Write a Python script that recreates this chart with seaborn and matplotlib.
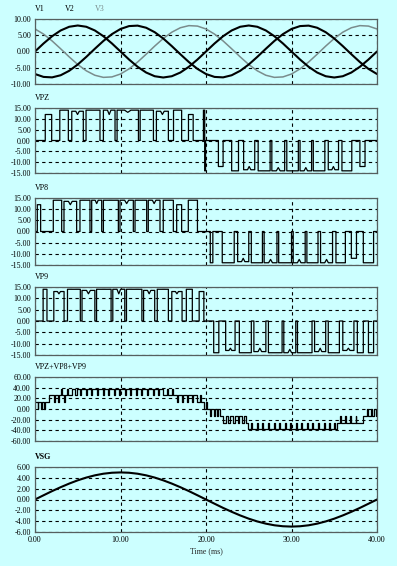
import numpy as np
import pandas as pd
import matplotlib
matplotlib.use("Agg")
import matplotlib.pyplot as plt
import seaborn as sns

# ---------------- data ----------------
t_sine = list(range(0, 41))  # ms
v1 = [0, 2.47, 4.70, 6.47, 7.61, 8.00, 7.61, 6.47, 4.70, 2.47, 0, -2.47, -4.70, -6.47, -7.61, -8.00, -7.61, -6.47, -4.70, -2.47,
      0, 2.47, 4.70, 6.47, 7.61, 8.00, 7.61, 6.47, 4.70, 2.47, 0, -2.47, -4.70, -6.47, -7.61, -8.00, -7.61, -6.47, -4.70, -2.47, 0]
v2 = [-6.93, -7.82, -7.96, -7.31, -5.94, -4.00, -1.66, 0.84, 3.25, 5.35, 6.93, 7.82, 7.96, 7.31, 5.94, 4.00, 1.66, -0.84, -3.25, -5.35,
      -6.93, -7.82, -7.96, -7.31, -5.94, -4.00, -1.66, 0.84, 3.25, 5.35, 6.93, 7.82, 7.96, 7.31, 5.94, 4.00, 1.66, -0.84, -3.25, -5.35, -6.93]
v3 = [6.93, 5.35, 3.25, 0.84, -1.66, -4.00, -5.94, -7.31, -7.96, -7.82, -6.93, -5.35, -3.25, -0.84, 1.66, 4.00, 5.94, 7.31, 7.96, 7.82,
      6.93, 5.35, 3.25, 0.84, -1.66, -4.00, -5.94, -7.31, -7.96, -7.82, -6.93, -5.35, -3.25, -0.84, 1.66, 4.00, 5.94, 7.31, 7.96, 7.82, 6.93]
vsg = [0, 0.78, 1.55, 2.27, 2.94, 3.54, 4.05, 4.46, 4.76, 4.94, 5.00, 4.94, 4.76, 4.46, 4.05, 3.54, 2.94, 2.27, 1.55, 0.78,
       0, -0.78, -1.55, -2.27, -2.94, -3.54, -4.05, -4.46, -4.76, -4.94, -5.00, -4.94, -4.76, -4.46, -4.05, -3.54, -2.94, -2.27, -1.55, -0.78, 0]

# PWM pulses: start (ms), end (ms), level, dip of the pulse top
vpz_on = [1.2, 2.9, 4.3, 5.97, 8.0, 9.6, 12.3, 14.2, 16.2, 17.95, 19.7, 19.85,
          21.45, 23.0, 24.4, 26.1, 27.7, 29.45, 31.0, 32.55, 34.3, 35.9, 38.0]
vpz_off = [1.95, 3.9, 5.65, 7.6, 9.36, 12.1, 13.85, 15.6, 17.15, 18.5, 19.85, 19.95,
           22.0, 23.8, 25.7, 27.5, 29.2, 30.8, 32.35, 33.9, 35.5, 37.05, 38.6]
vpz_lvl = [12, 14, 13.5, 14, 14, 14, 14, 13.5, 14, 12, 14, -14,
           -12, -14, -13.5, -14, -14, -14, -14, -14, -13.5, -14, -12]
vpz_dip = [0, 0, 1.5, 0, 2, 1, 0, 1.5, 0, 0, 0, 0,
           0, 0, 1.5, 0, 1.5, 0, 1.5, 0, 1.5, 0, 0]

vp8_on = [0.27, 2.14, 3.39, 5.26, 6.63, 8.0, 9.94, 11.7, 13.25, 15.0, 16.57, 17.93,
          20.5, 21.9, 23.7, 25.3, 26.8, 28.5, 30.2, 31.8, 33.4, 35.2, 37.0, 38.4]
vp8_off = [0.66, 3.12, 4.87, 6.43, 7.8, 9.75, 11.5, 13.06, 14.62, 16.18, 17.15, 19.0,
           20.8, 23.3, 25.0, 26.6, 28.3, 30.0, 31.6, 33.1, 34.8, 36.3, 37.6, 39.6]
vp8_lvl = [12, 14, 13.5, 14, 14, 14, 14, 14, 14, 14, 12, 14,
           -14, -14, -13.5, -14, -14, -14, -14, -14, -14, -14, -12, -14]
vp8_dip = [0, 0, 1.5, 0, 1.5, 0, 1.5, 0, 1.5, 0, 0, 0,
           0, 0, 1.5, 0, 1.5, 0, 1.5, 0, 1.5, 0, 0, 0]

vp9_on = [0.95, 2.2, 3.8, 5.5, 7.2, 9.1, 10.7, 12.7, 14.3, 16.0, 17.7, 19.2,
          20.9, 22.3, 23.9, 25.6, 27.3, 29.1, 30.7, 32.7, 34.3, 36.0, 37.7, 39.0]
vp9_off = [1.4, 3.4, 5.3, 7.0, 8.9, 10.5, 12.5, 14.0, 15.6, 17.2, 18.4, 19.75,
           21.5, 23.4, 25.3, 27.0, 28.9, 30.5, 32.4, 34.0, 35.6, 37.3, 38.4, 39.6]
vp9_lvl = [14, 13, 14, 13.5, 14, 14, 14, 13.5, 14, 13, 14, 13,
           -14, -13, -14, -13.5, -14, -14, -14, -13.5, -14, -13, -14, -14]
vp9_dip = [0, 1, 0, 1.5, 0, 2, 0, 1.5, 0, 1, 0, 0,
           0, 1, 0, 1.5, 0, 1.5, 0, 1.5, 0, 1, 0, 0]

# VPZ+VP8+VP9 staircase (time of change, level after it)
sum_t = [0, 0.3, 0.4, 0.7, 0.8, 1.1, 1.2, 1.6, 2.2, 2.35, 2.7, 2.8, 3.0, 3.1, 3.4, 3.5, 3.8, 3.9, 4.3, 4.7,
         4.9, 5.3, 5.42, 5.95, 6.07, 6.6, 6.72, 7.25, 7.37, 7.9, 8.02, 8.55, 8.67, 9.2, 9.32, 9.85, 9.97,
         10.5, 10.62, 11.15, 11.27, 11.8, 11.92, 12.45, 12.57, 13.1, 13.22, 13.75, 13.87, 14.4, 14.52,
         15.0, 15.4, 15.5, 16.0, 16.1, 16.6, 16.7, 17.2, 17.35, 17.8, 17.9, 18.4, 18.5, 18.9, 19.3, 19.4,
         19.8, 20.0, 20.1, 20.5, 20.6, 20.9, 21.0, 21.3, 21.4, 21.6,
         22.0, 22.3, 22.6, 22.8, 23.2, 23.4, 23.7, 23.9, 24.2, 24.5, 24.7,
         24.9, 25.3, 25.42, 25.95, 26.07, 26.6, 26.72, 27.25, 27.37, 27.9, 28.02, 28.55, 28.67, 29.2, 29.32,
         29.85, 29.97, 30.5, 30.62, 31.15, 31.27, 31.8, 31.92, 32.45, 32.57, 33.1, 33.22, 33.75, 33.87,
         34.4, 34.52, 35.0, 35.12,
         35.3, 35.7, 35.8, 36.3, 36.4, 36.9, 37.0, 37.5, 37.6,
         38.4, 38.8, 38.9, 39.3, 39.45, 39.7, 39.85, 40.0]
sum_v = [13, 0, 13, 0, 13, 0, 13, 26, 13, 26, 13, 26, 38, 26, 13, 26, 38, 26, 38, 26,
         38, 26, 38, 26, 38, 26, 38, 26, 38, 26, 38, 26, 38, 26, 38, 26, 38,
         26, 38, 26, 38, 26, 38, 26, 38, 26, 38, 26, 38, 26, 38,
         26, 38, 26, 38, 26, 13, 26, 13, 26, 13, 26, 13, 26, 13, 26, 13,
         0, 13, 0, -13, 0, -13, 0, -13, 0, -13,
         -26, -13, -26, -13, -26, -13, -26, -13, -26, -13, -26,
         -38, -26, -38, -26, -38, -26, -38, -26, -38, -26, -38, -26, -38, -26, -38,
         -26, -38, -26, -38, -26, -38, -26, -38, -26, -38, -26, -38, -26, -38,
         -26, -38, -26, -38,
         -26, -13, -26, -13, -26, -13, -26, -13, -26,
         -13, 0, -13, 0, -13, 0, -13, -13]

panel_labels = ["VPZ", "VP8", "VP9", "VPZ+VP8+VP9", "VSG"]
x_ticks = [0, 10, 20, 30, 40]
x_tick_labels = ["0.00", "10.00", "20.00", "30.00", "40.00"]
x_title = "Time (ms)"


def pulse_frame(on, off, lvl, dip):
    t, v = [0.0], [0.0]
    for a, b, l, d in zip(on, off, lvl, dip):
        t += [a, a]
        v += [0, l]
        if d:
            t += [a + 0.35 * (b - a), (a + b) / 2, a + 0.65 * (b - a)]
            v += [l, l - np.sign(l) * d, l]
        t += [b, b]
        v += [l, 0]
    t.append(40.0)
    v.append(0.0)
    return pd.DataFrame({"t": t, "v": v})


# ---------------- style ----------------
BG = "#ccffff"
sns.set_style("white", {"axes.facecolor": BG, "figure.facecolor": BG})
plt.rcParams["font.family"] = ["Liberation Serif", "DejaVu Serif"]
plt.rcParams["font.size"] = 5.8

fig = plt.figure(figsize=(3.97, 5.66), dpi=100)
fig.patch.set_facecolor(BG)
W, H = 397.0, 566.0
left, right = 35, 377
boxes = [(19, 84), (108, 173), (198, 265), (287, 355), (377, 441), (467, 532)]
axes = []
for top, bot in boxes:
    ax = fig.add_axes([left / W, 1 - bot / H, (right - left) / W, (bot - top) / H])
    axes.append(ax)


def style_axis(ax, yticks, bottom=False):
    ax.set_facecolor(BG)
    ax.set_xlim(0, 40)
    ax.set_ylim(yticks[0], yticks[-1])
    ax.set_yticks(yticks)
    ax.set_yticklabels([f"{y:.2f}" for y in yticks])
    ax.set_xticks(x_ticks)
    if bottom:
        ax.set_xticklabels(x_tick_labels)
    else:
        ax.set_xticklabels([])
    ax.tick_params(length=0, pad=3, labelsize=5.8, colors="black")
    ax.grid(True, color="black", linestyle=(0, (3, 3)), linewidth=0.8)
    ax.set_axisbelow(True)
    for s in ax.spines.values():
        s.set_color("#555f5f")
        s.set_linewidth(0.9)
        s.set_visible(True)
    ax.set_xlabel("")
    ax.set_ylabel("")


def label(ax, text, dx=0.0, color="black", weight="normal"):
    ax.annotate(text, xy=(dx, 1), xycoords="axes fraction", xytext=(0, 7.5),
                textcoords="offset points", ha="left", va="center",
                fontsize=5.8, color=color, weight=weight)


# panel 1: three phase sines
ax = axes[0]
sines = pd.DataFrame({"t": t_sine, "V1": v1, "V2": v2, "V3": v3})
sns.lineplot(data=sines, x="t", y="V3", color="#7a8c8c", lw=1.1, ax=ax, estimator=None, sort=False)
sns.lineplot(data=sines, x="t", y="V1", color="black", lw=1.5, ax=ax, estimator=None, sort=False)
sns.lineplot(data=sines, x="t", y="V2", color="black", lw=1.5, ax=ax, estimator=None, sort=False)
style_axis(ax, [-10, -5, 0, 5, 10])
label(ax, "V1", 0.0)
label(ax, "V2", 0.0877)
label(ax, "V3", 0.1754, color="#7a8c8c")

# PWM panels
pwm = [(vpz_on, vpz_off, vpz_lvl, vpz_dip), (vp8_on, vp8_off, vp8_lvl, vp8_dip),
       (vp9_on, vp9_off, vp9_lvl, vp9_dip)]
for i, p in enumerate(pwm):
    ax = axes[i + 1]
    df = pulse_frame(*p)
    sns.lineplot(data=df, x="t", y="v", color="black", lw=0.9, ax=ax, estimator=None, sort=False)
    style_axis(ax, [-15, -10, -5, 0, 5, 10, 15])
    label(ax, panel_labels[i])

# sum panel
ax = axes[4]
dfs = pd.DataFrame({"t": sum_t, "v": sum_v})
sns.lineplot(data=dfs, x="t", y="v", color="black", lw=0.9, ax=ax, estimator=None, sort=False,
             drawstyle="steps-post")
style_axis(ax, [-60, -40, -20, 0, 20, 40, 60])
label(ax, panel_labels[3])

# VSG panel
ax = axes[5]
dfg = pd.DataFrame({"t": t_sine, "v": vsg})
sns.lineplot(data=dfg, x="t", y="v", color="black", lw=1.5, ax=ax, estimator=None, sort=False)
style_axis(ax, [-6, -4, -2, 0, 2, 4, 6], bottom=True)
label(ax, panel_labels[4], weight="bold")
ax.set_xlabel(x_title, fontsize=5.8, labelpad=2)

fig.savefig("out.png", dpi=100, facecolor=BG)
